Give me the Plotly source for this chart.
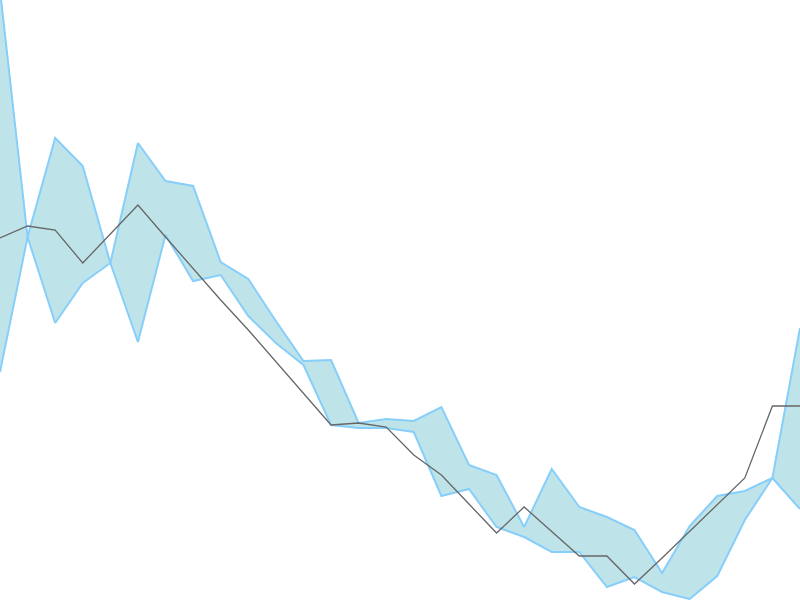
import plotly.graph_objects as go

# x positions (30 evenly spaced steps)
steps = list(range(30))

# the two edges of the band (they cross each other)
band_a = [610, 363, 277, 317, 337, 457, 419, 414, 338, 321, 279, 239, 240, 177, 181,
          179, 193, 135, 125, 73, 131, 93, 83, 70, 27, 74, 104, 109, 122, 272]
band_b = [228, 363, 462, 434, 337, 258, 365, 319, 325, 284, 257, 235, 175, 172, 172,
          168, 104, 111, 73, 63, 48, 48, 13, 23, 8, 1, 24, 80, 122, 91]

# gray line
line_vals = [362, 374, 370, 337, 366, 395, 363, 331, 300, 270, 238, 207, 175, 177, 173,
             145, 125, 96, 67, 93, 68, 44, 44, 16, 42, 69, 95, 122, 194, 194]

fig = go.Figure()

# band
fig.add_trace(go.Scatter(
    x=steps, y=band_a,
    mode="lines",
    line=dict(color="#87CEFA", width=2),
    hoverinfo="none"
))
fig.add_trace(go.Scatter(
    x=steps, y=band_b,
    mode="lines",
    line=dict(color="#87CEFA", width=2),
    fill="tonexty",
    fillcolor="#BEE4E9",
    hoverinfo="none"
))

# line on top
fig.add_trace(go.Scatter(
    x=steps, y=line_vals,
    mode="lines",
    line=dict(color="#666666", width=1.3),
    hoverinfo="none"
))

fig.update_layout(
    showlegend=False,
    paper_bgcolor="white",
    plot_bgcolor="white",
    xaxis=dict(visible=False, range=[0, 29]),
    yaxis=dict(visible=False, range=[0, 600]),
    margin=dict(l=0, r=0, t=0, b=0)
)

fig.write_html("out.html", include_plotlyjs=True, full_html=True,
               config={"displayModeBar": False},
               default_width="100vw", default_height="100vh",
               post_script="document.body.style.margin='0';"
                           "window.dispatchEvent(new Event('resize'));")
